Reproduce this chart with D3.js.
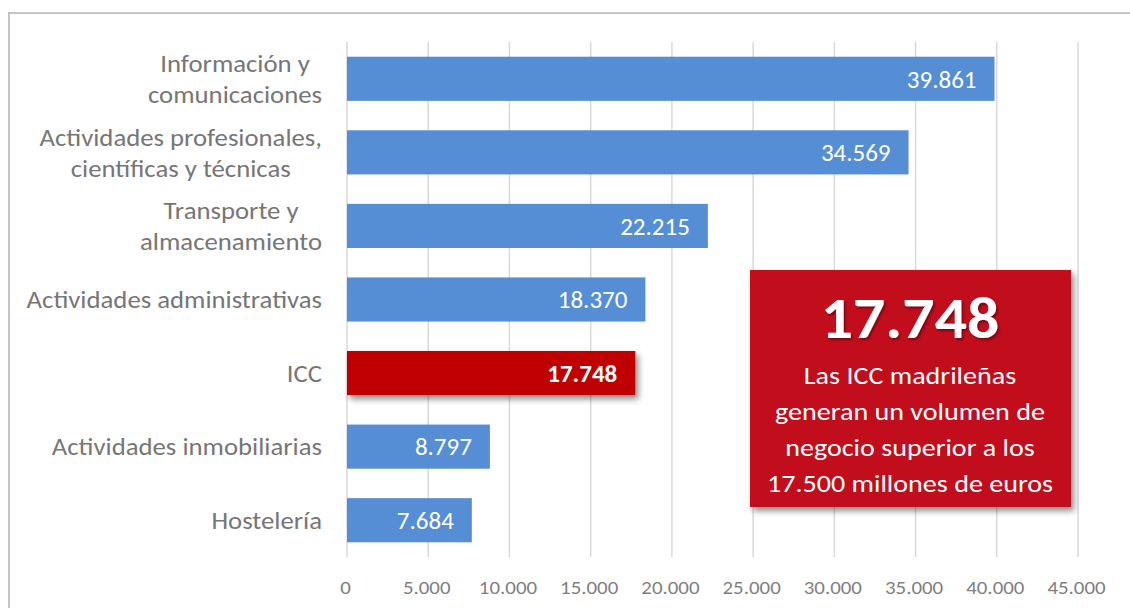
<!DOCTYPE html>
<html>
<head>
<meta charset="utf-8">
<style>
body { margin: 0; background: #fff; }
svg { display: block; font-family: Carlito, Lato, "Open Sans", sans-serif; }
</style>
<script src="https://d3js.org/d3.v7.min.js"></script>
</head>
<body>
<svg width="1130" height="608"></svg>
<script>
// data
var categories = [
  ["Información y", "comunicaciones"],
  ["Actividades profesionales,", "científicas y técnicas"],
  ["Transporte y", "almacenamiento"],
  ["Actividades administrativas"],
  ["ICC"],
  ["Actividades inmobiliarias"],
  ["Hostelería"]
];
var values = [39861, 34569, 22215, 18370, 17748, 8797, 7684];
var highlight = 4; // ICC
var tickValues = [0, 5000, 10000, 15000, 20000, 25000, 30000, 35000, 40000, 45000];
var boxTitle = "17.748";
var boxLines = ["Las ICC madrileñas", "generan un volumen de", "negocio superior a los", "17.500 millones de euros"];

var fmt = d3.formatLocale({decimal: ",", thousands: ".", grouping: [3], currency: ["", "€"]}).format(",d");

var svg = d3.select("svg");
var defs = svg.append("defs");
var sh = defs.append("filter").attr("id", "shadow").attr("x", "-10%").attr("y", "-20%").attr("width", "130%").attr("height", "150%");
sh.append("feDropShadow").attr("dx", 3).attr("dy", 4).attr("stdDeviation", 3).attr("flood-color", "#000").attr("flood-opacity", 0.45);
var tsh = defs.append("filter").attr("id", "tshadow").attr("x", "-10%").attr("y", "-20%").attr("width", "130%").attr("height", "150%");
tsh.append("feDropShadow").attr("dx", 1.5).attr("dy", 2).attr("stdDeviation", 1).attr("flood-color", "#000").attr("flood-opacity", 0.4);

// outer frame
svg.append("path")
  .attr("d", "M9,608V13H1130")
  .attr("fill", "none").attr("stroke", "#c4c4c4").attr("stroke-width", 2);

var x = d3.scaleLinear().domain([0, 45000]).range([347, 1078]);
var y = d3.scaleBand().domain(d3.range(categories.length)).range([42, 557]).paddingInner(0.4).paddingOuter(0.2);

// gridlines
svg.append("g").selectAll("line").data(tickValues).enter().append("line")
  .attr("x1", function(d) { return x(d); }).attr("x2", function(d) { return x(d); })
  .attr("y1", 42).attr("y2", 557)
  .attr("stroke", "#d9d9d9").attr("stroke-width", 1.5);

// x axis labels
var xAxis = svg.append("g").attr("transform", "translate(0,557)")
  .call(d3.axisBottom(x).tickValues(tickValues).tickFormat(fmt).tickSize(0).tickPadding(24));
xAxis.select(".domain").remove();
xAxis.selectAll("text")
  .attr("fill", "#7f7f7f")
  .attr("transform", "translate(-2,0) scale(1.13,1)")
  .style("font-size", "18.5px")
  .style("font-family", "Carlito, Lato, 'Open Sans', sans-serif");

// bars
svg.append("g").selectAll("rect").data(values).enter().append("rect")
  .attr("x", x(0))
  .attr("y", function(d, i) { return y(i); })
  .attr("width", function(d) { return x(d) - x(0); })
  .attr("height", y.bandwidth())
  .attr("fill", function(d, i) { return i === highlight ? "#c00000" : "#558ed5"; })
  .attr("filter", function(d, i) { return i === highlight ? "url(#shadow)" : null; });

// value labels
svg.append("g").selectAll("text").data(values).enter().append("text")
  .attr("x", function(d) { return x(d) - 18; })
  .attr("y", function(d, i) { return y(i) + y.bandwidth() / 2; })
  .attr("dy", "0.35em")
  .attr("text-anchor", "end")
  .attr("fill", "#fff")
  .style("font-size", "25px")
  .style("font-weight", function(d, i) { return i === highlight ? "bold" : "normal"; })
  .text(fmt);

// category labels (wrapped, centered within a right-aligned block)
var lineH = 31;
var labels = svg.append("g").attr("transform", "translate(322,0) scale(1.07,1)");
categories.forEach(function(lines, i) {
  var g = labels.append("g");
  var cy = y(i) + y.bandwidth() / 2;
  var ts = lines.map(function(l, j) {
    return g.append("text")
      .attr("y", cy + (j - (lines.length - 1) / 2) * lineH)
      .attr("dy", "0.35em")
      .attr("text-anchor", "middle")
      .attr("fill", "#767676")
      .style("font-size", "25px")
      .text(l);
  });
  var w = d3.max(ts, function(t) { return t.node().getComputedTextLength(); });
  ts.forEach(function(t) { t.attr("x", -w / 2); });
});

// annotation box
var box = svg.append("g");
box.append("rect")
  .attr("x", 750).attr("y", 270).attr("width", 321).attr("height", 237)
  .attr("fill", "#c20a1f").attr("filter", "url(#shadow)");
box.append("text")
  .attr("transform", "translate(910,338) scale(1.08,1)")
  .attr("text-anchor", "middle").attr("fill", "#fff")
  .style("font-size", "59px").style("font-weight", "bold")
  .attr("filter", "url(#tshadow)")
  .text(boxTitle);
box.selectAll("text.l").data(boxLines).enter().append("text").attr("class", "l")
  .attr("transform", function(d, i) { return "translate(910," + (384 + i * 36) + ") scale(1.17,1)"; })
  .attr("text-anchor", "middle").attr("fill", "#fff")
  .style("font-size", "24px")
  .text(function(d) { return d; });
</script>
</body>
</html>
